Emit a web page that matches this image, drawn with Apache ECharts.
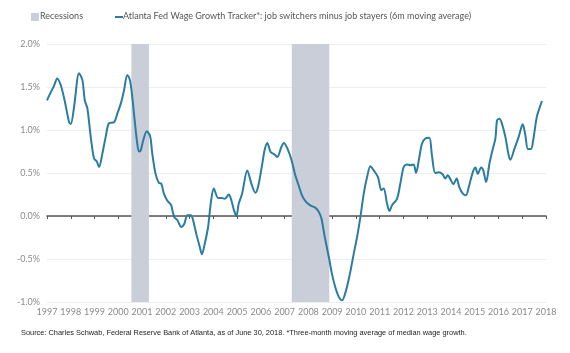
<!DOCTYPE html>
<html>
<head>
<meta charset="utf-8">
<script src="https://cdn.jsdelivr.net/npm/echarts@6/dist/echarts.min.js"></script>
<style>
    html, body { margin: 0; padding: 0; background: #fff; }
    #chart { width: 570px; height: 353px; }
</style>
</head>
<body>
<div id="chart"></div>
<script>
    // decimal year of each reading (as placed on the chart's axis)
    const years = [
        1997.00, 1997.16, 1997.29, 1997.43, 1997.58, 1997.74, 1997.93, 1998.00, 1998.14, 1998.35,
        1998.49, 1998.59, 1998.70, 1998.84, 1998.98, 1999.09, 1999.19, 1999.33, 1999.47, 1999.61,
        1999.82, 1999.96, 2000.13, 2000.24, 2000.38, 2000.49, 2000.59, 2000.69, 2000.80, 2000.87,
        2000.94, 2001.05, 2001.20, 2001.34, 2001.43, 2001.57, 2001.71, 2001.81, 2001.92, 2002.06,
        2002.18, 2002.23, 2002.35, 2002.49, 2002.65, 2002.77, 2002.91, 2003.05, 2003.14, 2003.28,
        2003.43, 2003.52, 2003.64, 2003.78, 2003.89, 2004.02, 2004.20, 2004.34, 2004.48, 2004.65,
        2004.76, 2004.87, 2004.97, 2005.07, 2005.21, 2005.43, 2005.60, 2005.77, 2005.88, 2006.05,
        2006.16, 2006.27, 2006.41, 2006.58, 2006.69, 2006.86, 2006.97, 2007.11, 2007.28, 2007.45,
        2007.59, 2007.73, 2007.90, 2008.08, 2008.29, 2008.44, 2008.55, 2008.69, 2008.86, 2008.99,
        2009.13, 2009.28, 2009.42, 2009.55, 2009.72, 2009.91, 2010.05, 2010.19, 2010.33, 2010.47,
        2010.61, 2010.75, 2010.93, 2011.07, 2011.17, 2011.31, 2011.41, 2011.52, 2011.73, 2011.87,
        2012.01, 2012.15, 2012.29, 2012.43, 2012.53, 2012.67, 2012.78, 2012.92, 2013.09, 2013.20,
        2013.34, 2013.49, 2013.65, 2013.76, 2013.86, 2014.00, 2014.10, 2014.24, 2014.35, 2014.50,
        2014.63, 2014.75, 2014.92, 2015.03, 2015.13, 2015.27, 2015.36, 2015.48, 2015.62, 2015.76,
        2015.87, 2015.94, 2016.04, 2016.15, 2016.29, 2016.43, 2016.50, 2016.67, 2016.85, 2017.02,
        2017.13, 2017.24, 2017.37, 2017.46, 2017.61, 2017.72, 2017.83
    ];
    // job switchers minus job stayers, percent
    const wageGap = [
        1.345, 1.44, 1.51, 1.60, 1.52, 1.345, 1.09, 1.07, 1.27, 1.66,
        1.58, 1.345, 1.25, 0.92, 0.667, 0.636, 0.57, 0.725, 0.92, 1.08,
        1.09, 1.19, 1.33, 1.46, 1.64, 1.58, 1.38, 1.11, 0.84, 0.75,
        0.76, 0.88, 0.985, 0.927, 0.725, 0.49, 0.384, 0.377, 0.26, 0.18,
        0.144, 0.124, -0.01, -0.05, -0.128, -0.097, 0.008, 0.008, -0.04, -0.205,
        -0.36, -0.445, -0.32, -0.128, 0.144, 0.32, 0.21, 0.21, 0.20, 0.25,
        0.18, 0.066, 0.0, 0.144, 0.26, 0.53, 0.377, 0.27, 0.337, 0.59,
        0.77, 0.85, 0.744, 0.714, 0.686, 0.80, 0.85, 0.79, 0.66, 0.473,
        0.357, 0.24, 0.163, 0.124, 0.097, 0.047, -0.03, -0.244, -0.477, -0.67,
        -0.826, -0.94, -0.98, -0.90, -0.71, -0.437, -0.244, -0.01, 0.26, 0.453,
        0.578, 0.53, 0.453, 0.30, 0.32, 0.144, 0.058, 0.124, 0.20, 0.377,
        0.57, 0.60, 0.59, 0.60, 0.50, 0.686, 0.84, 0.90, 0.91, 0.705,
        0.50, 0.51, 0.485, 0.435, 0.473, 0.415, 0.37, 0.435, 0.337, 0.26,
        0.24, 0.337, 0.51, 0.563, 0.49, 0.563, 0.53, 0.395, 0.61, 0.78,
        0.90, 1.11, 1.13, 1.07, 0.92, 0.705, 0.655, 0.78, 0.92, 1.066,
        0.94, 0.78, 0.78, 0.88, 1.15, 1.25, 1.337
    ];
    const recessionStart = [2000.55, 2007.30];
    const recessionEnd = [2001.29, 2008.88];

    const lineName = 'Atlanta Fed Wage Growth Tracker*: job switchers minus job stayers (6m moving average)';
    const lineColor = '#2a7ca1';
    const bandColor = '#c9ced8';

    const chart = echarts.init(document.getElementById('chart'));

    const points = years.map((y, i) => [y, wageGap[i]]);
    const bands = recessionStart.map((s, i) => [{ xAxis: s }, { xAxis: recessionEnd[i] }]);

    const option = {
        animation: false,
        grid: {
            left: 47,
            right: 24,
            top: 44,
            height: 258
        },
        graphic: [
            { type: 'rect', left: 31, top: 13, shape: { width: 8, height: 8 }, style: { fill: bandColor } },
            { type: 'text', left: 40, top: 12, style: { text: 'Recessions', fill: '#555', font: '9px Lato' } },
            { type: 'rect', left: 115, top: 16, shape: { width: 8, height: 2 }, style: { fill: lineColor } },
            { type: 'text', left: 123, top: 12, style: { text: lineName, fill: '#555', font: '9px Lato' } },
            {
                type: 'text', left: 21, top: 329,
                style: {
                    text: 'Source: Charles Schwab, Federal Reserve Bank of Atlanta, as of June 30, 2018. *Three-month moving average of median wage growth.',
                    fill: '#222', font: '7.4px "Liberation Sans"'
                }
            }
        ],
        xAxis: [
            {
                type: 'value',
                min: 1997,
                max: 2018,
                interval: 1,
                position: 'bottom',
                axisLine: { show: false, onZero: false },
                axisTick: { show: false },
                splitLine: { show: false },
                axisLabel: {
                    color: '#8a8a8a',
                    fontSize: 9,
                    fontFamily: 'Lato',
                    margin: 6,
                    formatter: v => String(v)
                }
            },
            {
                type: 'value',
                min: 1997,
                max: 2018,
                interval: 1,
                position: 'bottom',
                axisLine: { show: true, onZero: true, lineStyle: { color: '#555', width: 1.5 } },
                axisTick: { show: true, length: 3, lineStyle: { color: '#555' } },
                axisLabel: { show: false },
                splitLine: { show: false }
            }
        ],
        yAxis: {
            type: 'value',
            min: -1,
            max: 2,
            interval: 0.5,
            axisLine: { show: false },
            axisTick: { show: false },
            axisLabel: {
                color: '#8a8a8a',
                fontSize: 9,
                fontFamily: 'Lato',
                margin: 7,
                formatter: v => v.toFixed(1) + '%'
            },
            splitLine: { lineStyle: { color: '#eeeeee' } }
        },
        series: [
            {
                name: 'Recessions',
                type: 'line',
                data: [],
                markArea: {
                    silent: true,
                    itemStyle: { color: bandColor },
                    data: bands
                }
            },
            {
                name: lineName,
                type: 'line',
                data: points,
                smooth: 0.3,
                showSymbol: false,
                z: 5,
                lineStyle: { color: lineColor, width: 2 }
            }
        ]
    };

    chart.setOption(option);
</script>
</body>
</html>
